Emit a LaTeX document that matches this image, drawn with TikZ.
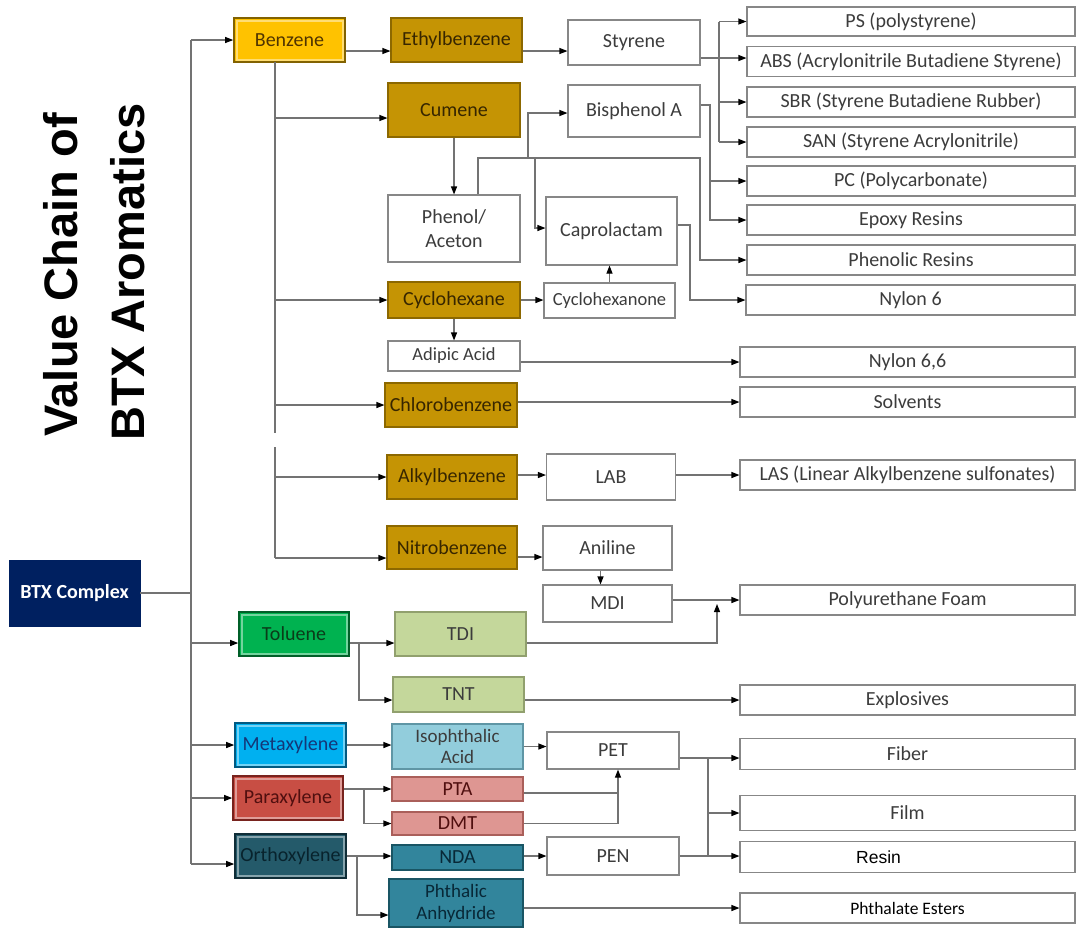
\documentclass[tikz,border=0pt]{standalone}
\usepackage{fontspec}
\setmainfont{Carlito}
\newfontfamily\arialf{Liberation Sans}
\usetikzlibrary{arrows.meta}
\definecolor{lncol}{RGB}{115,115,115}
\definecolor{wbord}{RGB}{135,135,135}
\definecolor{wtext}{RGB}{60,60,60}
\definecolor{goldf}{RGB}{197,148,4}
\definecolor{goldd}{RGB}{140,104,0}
\definecolor{goldt}{RGB}{55,38,0}
\definecolor{benzf}{RGB}{255,194,0}
\definecolor{benzd}{RGB}{130,98,0}
\definecolor{navyf}{RGB}{0,32,96}
\definecolor{tolf}{RGB}{0,178,80}
\definecolor{told}{RGB}{0,95,40}
\definecolor{tolt}{RGB}{10,60,25}
\definecolor{olivf}{RGB}{196,215,155}
\definecolor{olivd}{RGB}{145,160,110}
\definecolor{metaf}{RGB}{0,176,240}
\definecolor{metad}{RGB}{0,90,130}
\definecolor{metat}{RGB}{20,55,120}
\definecolor{isof}{RGB}{146,205,220}
\definecolor{isod}{RGB}{95,150,165}
\definecolor{paraf}{RGB}{200,78,68}
\definecolor{parad}{RGB}{120,35,30}
\definecolor{parat}{RGB}{80,15,15}
\definecolor{ptaf}{RGB}{222,150,146}
\definecolor{ptad}{RGB}{170,95,90}
\definecolor{orthf}{RGB}{36,90,106}
\definecolor{orthd}{RGB}{15,45,55}
\definecolor{ortht}{RGB}{8,35,45}
\definecolor{ndaf}{RGB}{50,133,156}
\definecolor{ndad}{RGB}{25,85,100}
\definecolor{ndat}{RGB}{8,40,55}
\definecolor{benzt}{RGB}{80,52,0}
\tikzset{
  ln/.style={draw=lncol, line width=1.1pt},
  arr/.style={ln, -{Triangle[length=8pt,width=6pt,color=black]}},
  base/.style={rectangle, inner sep=0pt, align=center, font=\fontsize{20}{22}\selectfont},
  wbox/.style={base, draw=wbord, fill=white, line width=1.1pt, text=wtext},
  gbox/.style={base, draw=goldd, fill=goldf, line width=1.1pt, text=goldt},
  bevel/.style={path picture={\draw[white, opacity=0.45, line width=2pt]
      ([shift={(2.5pt,-2.5pt)}]path picture bounding box.north west) rectangle
      ([shift={(-2.5pt,2.5pt)}]path picture bounding box.south east);}},
  sz/.style 2 args={minimum width=#1pt, minimum height=#2pt}
}
\begin{document}
\begin{tikzpicture}[x=1pt, y=-1pt]
\useasboundingbox (0,0) rectangle (1078,930);
% title
\node[rotate=90, font=\arialf\bfseries\fontsize{47}{50}\selectfont] (t1) at (61,275) {Value Chain of};
\node[rotate=90, font=\arialf\bfseries\fontsize{47}{50}\selectfont] (t2) at (128,272) {BTX Aromatics};
% main feedstocks
\node[base, fill=navyf, draw=navyf, text=white, font=\bfseries\fontsize{20}{22}\selectfont, sz={131}{66}] (btx) at (74.5,593) {BTX Complex};
\node[base, fill=benzf, draw=benzd, line width=1.6pt, text=benzt, bevel, sz={111}{44}] (benzene) at (289.5,40) {Benzene};
\node[base, fill=tolf, draw=told, line width=1.6pt, text=tolt, bevel, sz={110}{44}] (toluene) at (294,634) {Toluene};
\node[base, fill=metaf, draw=metad, line width=1.6pt, text=metat, bevel, sz={111}{44}] (metaxylene) at (290.5,745) {Metaxylene};
\node[base, fill=paraf, draw=parad, line width=1.6pt, text=parat, bevel, sz={110}{44}] (paraxylene) at (288,798) {Paraxylene};
\node[base, fill=orthf, draw=orthd, line width=1.6pt, text=ortht, bevel, sz={111}{44}] (orthoxylene) at (290.5,856) {Orthoxylene};
% benzene derivatives
\node[gbox, sz={131}{44}] (ethyl) at (456.5,40) {Ethylbenzene};
\node[gbox, sz={132}{54}] (cumene) at (454,110) {Cumene};
\node[gbox, sz={132}{36}] (cyclohexane) at (454,300) {Cyclohexane};
\node[gbox, sz={132}{44}] (chloro) at (451,405) {Chlorobenzene};
\node[gbox, sz={130}{44}] (alkyl) at (452,477) {Alkylbenzene};
\node[gbox, sz={130}{43}] (nitro) at (452,547.5) {Nitrobenzene};
% white intermediates
\node[wbox, sz={132}{45}] (styrene) at (634,42.5) {Styrene};
\node[wbox, sz={132}{52}] (bisphenol) at (634,111) {Bisphenol A};
\node[wbox, sz={132}{67}, font=\fontsize{20}{24}\selectfont] (phenol) at (454,228.5) {Phenol/\\Aceton};
\node[wbox, sz={131}{68}] (caprolactam) at (611.5,231) {Caprolactam};
\node[wbox, sz={131}{35}, font=\fontsize{18.5}{20}\selectfont] (cyclohexanone) at (609.5,300.5) {Cyclohexanone};
\node[wbox, sz={132}{30}, font=\fontsize{18.5}{20}\selectfont] (adipic) at (454,356) {Adipic Acid};
\node[wbox, sz={129}{46}] (lab) at (611,477) {LAB};
\node[wbox, sz={129}{44}] (aniline) at (607.5,548) {Aniline};
\node[wbox, sz={129}{37}] (mdi) at (607.5,603.5) {MDI};
% toluene / xylene derivatives
\node[base, fill=olivf, draw=olivd, line width=1.1pt, text=wtext, sz={131}{44}] (tdi) at (460.5,634) {TDI};
\node[base, fill=olivf, draw=olivd, line width=1.1pt, text=wtext, sz={131}{35}] (tnt) at (458.5,694.5) {TNT};
\node[base, fill=isof, draw=isod, line width=1.1pt, text=wtext, sz={131}{45}, font=\fontsize{19}{21}\selectfont] (isophthalic) at (457.5,746.5) {Isophthalic\\Acid};
\node[base, fill=ptaf, draw=ptad, line width=1.1pt, text=parat, sz={131}{24}] (pta) at (457.5,789) {PTA};
\node[base, fill=ptaf, draw=ptad, line width=1.1pt, text=parat, sz={131}{23}] (dmt) at (457.5,823.5) {DMT};
\node[base, fill=ndaf, draw=ndad, line width=1.1pt, text=ndat, sz={131}{25}] (nda) at (457.5,857.5) {NDA};
\node[base, fill=ndaf, draw=ndad, line width=1.1pt, text=ndat, sz={134}{48}, font=\fontsize{19}{22}\selectfont] (phthalic) at (456,903) {Phthalic\\Anhydride};
\node[wbox, sz={132}{37}] (pet) at (613,750.5) {PET};
\node[wbox, sz={132}{38}] (pen) at (613,856) {PEN};
% end products
\node[wbox, sz={328}{29}] (ps) at (911,21.5) {PS (polystyrene)};
\node[wbox, sz={328}{30}] (abs) at (911,61.5) {ABS (Acrylonitrile Butadiene Styrene)};
\node[wbox, sz={328}{30}] (sbr) at (911,102) {SBR (Styrene Butadiene Rubber)};
\node[wbox, sz={328}{30}] (san) at (911,142) {SAN (Styrene Acrylonitrile)};
\node[wbox, sz={328}{30}] (pcn) at (911,181) {PC (Polycarbonate)};
\node[wbox, sz={328}{30}] (epoxy) at (911,220) {Epoxy Resins};
\node[wbox, sz={328}{30}] (phenolic) at (911,260) {Phenolic Resins};
\node[wbox, sz={329}{30}] (nylon6) at (910.5,300) {Nylon 6};
\node[wbox, sz={335}{30}] (nylon66) at (907.5,362) {Nylon 6,6};
\node[wbox, sz={335}{30}] (solvents) at (907.5,402) {Solvents};
\node[wbox, sz={335}{30}] (las) at (907.5,475) {LAS (Linear Alkylbenzene sulfonates)};
\node[wbox, sz={335}{30}] (pu) at (907.5,600) {Polyurethane Foam};
\node[wbox, sz={335}{30}] (explosives) at (907.5,700) {Explosives};
\node[wbox, sz={335}{31}] (fiber) at (907.5,754) {Fiber};
\node[wbox, sz={335}{35}] (film) at (907.5,813) {Film};
\node[wbox, sz={335}{31}, font=\arialf\fontsize{17.5}{19}\selectfont, text=black] (resin) at (907.5,857) {Resin\hspace*{58pt}};
\node[wbox, sz={335}{30}, font=\fontsize{17.5}{19}\selectfont, text=black] (phthalate) at (907.5,908) {Phthalate Esters};
% ---- connectors ----
% BTX trunk
\coordinate (tr) at (191,593);
\coordinate (toluin) at ([yshift=-9pt]toluene.west);
\coordinate (orthoin) at ([yshift=-8pt]orthoxylene.west);
\draw[ln] (btx.east) -- (tr);
\draw[ln] (tr |- benzene.west) -- (tr |- orthoin);
\draw[arr] (tr |- benzene.west) -- (benzene.west);
\draw[arr] (tr |- toluin) -- (toluin);
\draw[arr] (tr |- metaxylene.west) -- (metaxylene.west);
\draw[arr] (tr |- paraxylene.west) -- (paraxylene.west);
\draw[arr] (tr |- orthoin) -- (orthoin);
% benzene trunk
\coordinate (bt) at (275,62);
\coordinate (gapA) at (275,433);
\coordinate (gapB) at (275,447);
\coordinate (nitroin) at ([yshift=-10.5pt]nitro.west);
\coordinate (cumin) at ([yshift=-8pt]cumene.west);
\draw[ln] (bt) -- (gapA);
\draw[ln] (gapB) -- (bt |- nitroin);
\draw[arr] (bt |- cumin) -- (cumin);
\draw[arr] (bt |- cyclohexane.west) -- (cyclohexane.west);
\draw[arr] (bt |- chloro.west) -- (chloro.west);
\draw[arr] (bt |- alkyl.west) -- (alkyl.west);
\draw[arr] (bt |- nitroin) -- (nitroin);
% benzene -> ethylbenzene -> styrene
\draw[arr] ([yshift=-11pt]benzene.east) -- ([yshift=-11pt]ethyl.west);
\draw[arr] ([yshift=-11pt]ethyl.east) -- ([yshift=-11pt]ethyl.east -| styrene.west);
% styrene fan-out
\coordinate (sx) at (719,58);
\draw[ln] (styrene.east |- sx) -- (sx);
\draw[ln] (sx |- ps.west) -- (sx |- san.west);
\draw[arr] (sx |- ps.west) -- (ps.west);
\draw[arr] (sx) -- (sx -| abs.west);
\draw[arr] (sx |- sbr.west) -- (sbr.west);
\draw[arr] (sx |- san.west) -- (san.west);
% cumene -> phenol
\draw[arr] (cumene.south) -- (phenol.north);
% phenol network
\coordinate (ph) at (478,158);
\coordinate (phr) at (700,158);
\coordinate (pbis) at (528,158);
\coordinate (pcap) at (535,158);
\draw[arr] (ph |- phenol.north) -- (ph) -- (phr) |- (phenolic.west);
\draw[arr] (pbis) |- ([yshift=-2pt]bisphenol.west);
\draw[arr] (pcap) |- ([yshift=3pt]caprolactam.west);
% bisphenol -> PC, epoxy
\coordinate (bx) at (710,105);
\draw[arr] (bisphenol.east |- bx) -- (bx) |- (epoxy.west);
\draw[arr] (bx |- pcn.west) -- (pcn.west);
% caprolactam -> nylon 6
\coordinate (cx) at (690,225);
\draw[arr] (caprolactam.east |- cx) -- (cx) |- (nylon6.west);
% cyclohexane chain
\draw[arr] (cyclohexane.east) -- (cyclohexane.east -| cyclohexanone.west);
\draw[arr] (cyclohexanone.north) -- (cyclohexanone.north |- caprolactam.south);
\draw[arr] (cyclohexane.south) -- (adipic.north);
\draw[arr] (adipic.east |- nylon66.west) -- (nylon66.west);
\draw[arr] (chloro.east |- solvents.west) -- (solvents.west);
\draw[arr] ([yshift=2pt]alkyl.east) -- ([yshift=2pt]alkyl.east -| lab.west);
\draw[arr] (lab.east |- las.west) -- (las.west);
\draw[arr] ([yshift=-9.5pt]nitro.east) -- ([yshift=-9.5pt]nitro.east -| aniline.west);
\draw[arr] ([xshift=-7pt]aniline.south) -- ([xshift=-7pt]aniline.south |- mdi.north);
\draw[arr] (mdi.east |- pu.west) -- (pu.west);
% toluene chain
\coordinate (mx) at (717,604);
\coordinate (tx) at (359,643);
\draw[arr] (toluene.east |- tx) -- (tx -| tdi.west);
\draw[arr] (tx) |- ([yshift=-5.5pt]tnt.west);
\draw[arr] (tdi.east |- tx) -| (mx);
\draw[arr] ([yshift=-5.5pt]tnt.east) -- ([yshift=-5.5pt]tnt.east -| explosives.west);
% xylenes
\draw[arr] (metaxylene.east) -- (metaxylene.east -| isophthalic.west);
\draw[arr] (isophthalic.east) -- (isophthalic.east -| pet.west);
\coordinate (px) at (364,789);
\draw[arr] (paraxylene.east |- px) -- (px -| pta.west);
\draw[arr] (px) |- (dmt.west);
\coordinate (qx) at (618,793);
\coordinate (qd) at (618,823.5);
\draw[ln] (pta.east |- qx) -- (qx);
\draw[ln] (dmt.east) -- (qd);
\draw[arr] (qd) -- (qd |- pet.south);
\coordinate (ox) at (357,856);
\draw[arr] (orthoxylene.east |- ox) -- (ox -| nda.west);
\draw[arr] (ox) |- ([yshift=-12pt]phthalic.west);
\draw[arr] (nda.east |- pen.west) -- (pen.west);
% PET / PEN outputs
\coordinate (fx) at (708,758);
\draw[ln] (pet.east |- fx) -- (fx);
\draw[ln] (fx) -- (fx |- pen.east);
\draw[arr] (fx) -- (fx -| fiber.west);
\draw[arr] (fx |- film.west) -- (film.west);
\draw[arr] (pen.east) -- (pen.east -| resin.west);
\draw[arr] (phthalic.east |- phthalate.west) -- (phthalate.west);
\end{tikzpicture}
\end{document}
